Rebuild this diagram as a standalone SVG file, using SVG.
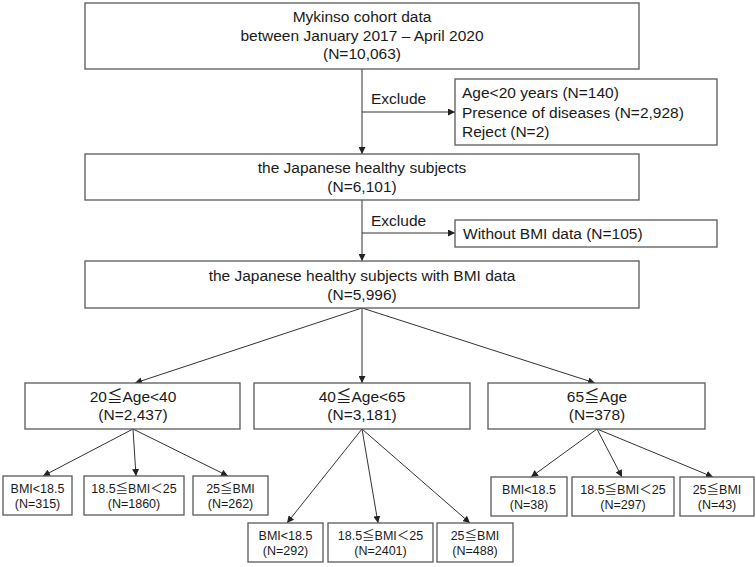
<svg xmlns="http://www.w3.org/2000/svg" width="756" height="567" viewBox="0 0 756 567">
<style>
.box{fill:#fff;stroke:#595959;stroke-width:1.3}
.c{stroke:#333;stroke-width:1;fill:none}
text{font-family:"Liberation Sans","Noto Sans CJK JP",Arial,sans-serif;fill:#1a1a1a}
.l{font-size:15.5px;text-anchor:middle}
.ll{font-size:15.5px}
.s{font-size:12.5px;text-anchor:middle}
</style>
<defs>
<marker id="a" viewBox="0 0 10 10" refX="10" refY="5" markerWidth="7" markerHeight="7" markerUnits="userSpaceOnUse" orient="auto">
<path d="M0,0L10,5L0,10z" fill="#222"/>
</marker>
</defs>
<rect width="756" height="567" fill="#fff"/>
<g id="connectors">
<line class="c" x1="362" y1="69" x2="362" y2="154" marker-end="url(#a)"/>
<line class="c" x1="362" y1="112" x2="455" y2="112" marker-end="url(#a)"/>
<line class="c" x1="362" y1="200" x2="362" y2="261" marker-end="url(#a)"/>
<line class="c" x1="362" y1="233" x2="455" y2="233" marker-end="url(#a)"/>
<line class="c" x1="362" y1="308" x2="135" y2="383" marker-end="url(#a)"/>
<line class="c" x1="362" y1="308" x2="362" y2="383" marker-end="url(#a)"/>
<line class="c" x1="362" y1="308" x2="595" y2="383" marker-end="url(#a)"/>
<line class="c" x1="133" y1="429" x2="43" y2="476" marker-end="url(#a)"/>
<line class="c" x1="133" y1="429" x2="136" y2="476" marker-end="url(#a)"/>
<line class="c" x1="133" y1="429" x2="228" y2="476" marker-end="url(#a)"/>
<line class="c" x1="362" y1="429" x2="287" y2="523" marker-end="url(#a)"/>
<line class="c" x1="362" y1="429" x2="378" y2="523" marker-end="url(#a)"/>
<line class="c" x1="362" y1="429" x2="470" y2="523" marker-end="url(#a)"/>
<line class="c" x1="597" y1="429" x2="531" y2="477" marker-end="url(#a)"/>
<line class="c" x1="597" y1="429" x2="622" y2="477" marker-end="url(#a)"/>
<line class="c" x1="597" y1="429" x2="713" y2="477" marker-end="url(#a)"/>
<text class="ll" x="371" y="104">Exclude</text>
<text class="ll" x="371" y="226">Exclude</text>
</g>
<g id="n1"><rect class="box" x="85" y="3" width="554" height="66"/>
<text class="l" x="362" y="22">Mykinso cohort data</text>
<text class="l" x="362" y="41">between January 2017 – April 2020</text>
<text class="l" x="362" y="59">(N=10,063)</text></g>
<g id="ex1"><rect class="box" x="455" y="79" width="262" height="66"/>
<text class="ll" x="462" y="98">Age&lt;20 years (N=140)</text>
<text class="ll" x="462" y="118">Presence of diseases (N=2,928)</text>
<text class="ll" x="462" y="137">Reject (N=2)</text></g>
<g id="n2"><rect class="box" x="85" y="154" width="554" height="46"/>
<text class="l" x="362" y="173">the Japanese healthy subjects</text>
<text class="l" x="362" y="192">(N=6,101)</text></g>
<g id="ex2"><rect class="box" x="455" y="220" width="262" height="27"/>
<text class="ll" x="463" y="239">Without BMI data (N=105)</text></g>
<g id="n3"><rect class="box" x="85" y="261" width="554" height="47"/>
<text class="l" x="362" y="281">the Japanese healthy subjects with BMI data</text>
<text class="l" x="362" y="300">(N=5,996)</text></g>
<g id="a1"><rect class="box" x="25" y="383" width="215" height="46"/>
<text class="l" x="133" y="402">20≦Age&lt;40</text>
<text class="l" x="133" y="420">(N=2,437)</text></g>
<g id="a2"><rect class="box" x="254" y="383" width="216" height="46"/>
<text class="l" x="362" y="402">40≦Age&lt;65</text>
<text class="l" x="362" y="420">(N=3,181)</text></g>
<g id="a3"><rect class="box" x="488" y="383" width="217" height="46"/>
<text class="l" x="597" y="402">65≦Age</text>
<text class="l" x="597" y="420">(N=378)</text></g>
<g id="b1"><rect class="box" x="3" y="476" width="69" height="39"/>
<text class="s" x="37.5" y="493">BMI&lt;18.5</text><text class="s" x="37.5" y="508">(N=315)</text></g>
<g id="b2"><rect class="box" x="84" y="476" width="100" height="39"/>
<text class="s" x="134" y="493">18.5≦BMI＜25</text><text class="s" x="134" y="508">(N=1860)</text></g>
<g id="b3"><rect class="box" x="193" y="476" width="75" height="39"/>
<text class="s" x="230.5" y="493">25≦BMI</text><text class="s" x="230.5" y="508">(N=262)</text></g>
<g id="b4"><rect class="box" x="248" y="523" width="75" height="39"/>
<text class="s" x="285.5" y="540">BMI&lt;18.5</text><text class="s" x="285.5" y="555">(N=292)</text></g>
<g id="b5"><rect class="box" x="328" y="523" width="105" height="39"/>
<text class="s" x="380.5" y="540">18.5≦BMI＜25</text><text class="s" x="380.5" y="555">(N=2401)</text></g>
<g id="b6"><rect class="box" x="437" y="523" width="76" height="39"/>
<text class="s" x="475" y="540">25≦BMI</text><text class="s" x="475" y="555">(N=488)</text></g>
<g id="b7"><rect class="box" x="491" y="477" width="76" height="39"/>
<text class="s" x="529" y="494">BMI&lt;18.5</text><text class="s" x="529" y="509">(N=38)</text></g>
<g id="b8"><rect class="box" x="572" y="477" width="102" height="39"/>
<text class="s" x="623" y="494">18.5≦BMI＜25</text><text class="s" x="623" y="509">(N=297)</text></g>
<g id="b9"><rect class="box" x="680" y="477" width="74" height="39"/>
<text class="s" x="717" y="494">25≦BMI</text><text class="s" x="717" y="509">(N=43)</text></g>
</svg>
